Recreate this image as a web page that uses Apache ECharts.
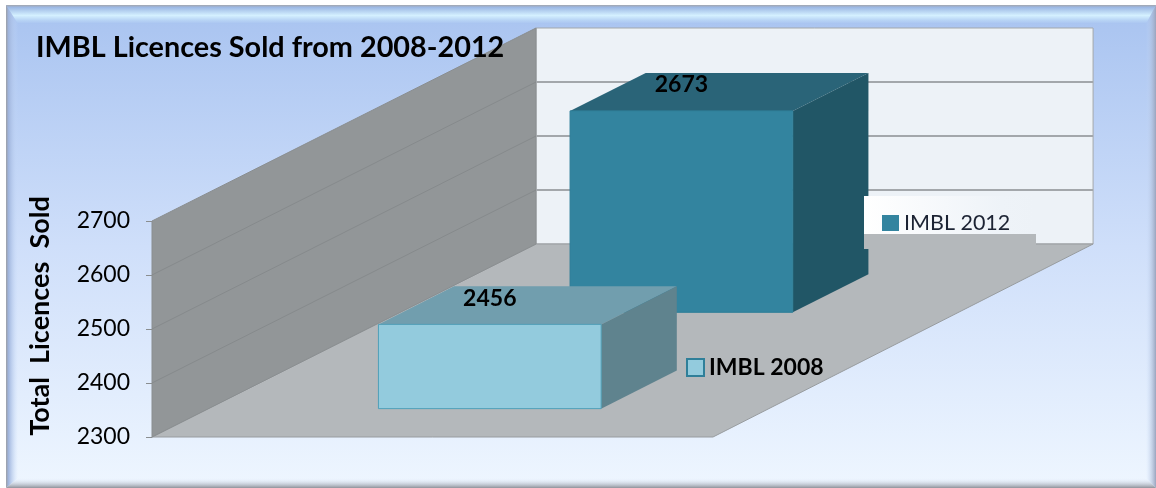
<!DOCTYPE html>
<html>
    <head>
        <meta charset="utf-8">
        <title>IMBL Licences Sold</title>
        <script src="https://cdn.jsdelivr.net/npm/echarts@6/dist/echarts.min.js"></script>
        <style>
            html, body { margin: 0; padding: 0; background: #fff; }
        </style>
    </head>
    <body>
        <div id="chart" style="width: 1156px;height: 488px;"></div>
        <script>
            var categories = ['2008-2012'];
            var names = ['IMBL 2008', 'IMBL 2012'];
            var values2008 = [2456];
            var values2012 = [2673];
            var ticks = [2300, 2400, 2500, 2600, 2700];

            // the box is drawn as an oblique projection of the axis grid
            var wallDx = 384, wallDy = -193;
            var backRight = 0.993;
            var barFrom = 0.303, barTo = 0.700, barDepth = 0.197;
            var font = 'Lato';

            function vertical(stops) {
                return {type: 'linear', x: 0, y: 0, x2: 0, y2: 1, colorStops: stops.map(function (s) {
                    return {offset: s[0], color: s[1]};
                })};
            }
            function horizontal(stops) {
                return {type: 'linear', x: 0, y: 0, x2: 1, y2: 0, colorStops: stops.map(function (s) {
                    return {offset: s[0], color: s[1]};
                })};
            }

            function projector(api) {
                var bw = api.size([1, 0])[0];
                return function (x, v, d) {
                    var c = api.coord([0, v]);
                    return [c[0] - bw / 2 + x * bw + d * wallDx, c[1] + d * wallDy];
                };
            }

            function poly(points, fill, stroke) {
                return {type: 'polygon', shape: {points: points}, style: {fill: fill, stroke: stroke || null, lineWidth: 1}};
            }

            function renderWalls(params, api) {
                var p = projector(api);
                var lo = ticks[0], hi = ticks[ticks.length - 1];
                var children = [
                    poly([p(0, lo, 1), p(backRight, lo, 1), p(backRight, hi, 1), p(0, hi, 1)], '#edf2f7', '#a3a7ab'),
                    poly([p(0, lo, 0), p(1, lo, 0), p(backRight, lo, 1), p(0, lo, 1)], '#b4b8bb', '#989c9f'),
                    poly([p(0, lo, 0), p(0, lo, 1), p(0, hi, 1), p(0, hi, 0)], '#929698', '#8a8e90')
                ];
                ticks.slice(1, -1).forEach(function (t) {
                    children.push({type: 'polyline', shape: {points: [p(0, t, 0), p(0, t, 1)]}, style: {fill: null, stroke: '#868a8c', lineWidth: 1}});
                    children.push({type: 'polyline', shape: {points: [p(0, t, 1), p(backRight, t, 1)]}, style: {fill: null, stroke: '#a3a7ab', lineWidth: 2}});
                });
                return {type: 'group', children: children};
            }

            function renderBar(depth, colors) {
                return function (params, api) {
                    var p = projector(api);
                    var v = api.value(1), lo = ticks[0], d2 = depth + barDepth;
                    var anchor = p((barFrom + barTo) / 2, v, depth);
                    return {type: 'group', children: [
                        poly([p(barFrom, v, depth), p(barTo, v, depth), p(barTo, v, d2), p(barFrom, v, d2)], colors[1]),
                        poly([p(barTo, lo, depth), p(barTo, lo, d2), p(barTo, v, d2), p(barTo, v, depth)], colors[2]),
                        poly([p(barFrom, lo, depth), p(barTo, lo, depth), p(barTo, v, depth), p(barFrom, v, depth)], colors[0], colors[3]),
                        {type: 'text', x: anchor[0], y: anchor[1] - 26, z2: 10, style: {
                            text: String(v), fill: '#000', align: 'center', verticalAlign: 'middle',
                            font: 'bold 23px ' + font
                        }}
                    ]};
                };
            }

            var option = {
                animation: false,
                backgroundColor: '#fff',
                textStyle: {fontFamily: font},
                title: {
                    text: 'IMBL Licences Sold from 2008-2012',
                    left: 36, top: 33, padding: 0,
                    textStyle: {fontFamily: font, fontSize: 28.8, fontWeight: 'bold', color: '#000'}
                },
                grid: {left: 152, top: 221, width: 561, height: 216, outerBoundsMode: 'none'},
                xAxis: {type: 'category', data: categories, show: false},
                yAxis: {
                    type: 'value', min: 2300, max: 2700, interval: 100,
                    name: 'Total  Licences  Sold',
                    nameLocation: 'middle', nameGap: 98, nameMoveOverlap: false,
                    nameTextStyle: {fontFamily: font, fontSize: 27, fontWeight: 'bold', color: '#000', padding: [0, 0, 0, 26]},
                    axisLine: {show: false},
                    axisTick: {show: true, length: 6, lineStyle: {color: '#8a8e90', width: 1}},
                    axisLabel: {margin: 22, fontFamily: font, fontSize: 23, color: '#000', formatter: function (v) { return String(v); }},
                    splitLine: {show: false}
                },
                legend: [
                    {
                        data: [{name: names[1], icon: 'rect'}],
                        left: 882, top: 212, padding: 0, itemWidth: 17, itemHeight: 16, z: 8,
                        selectedMode: false,
                        textStyle: {fontFamily: font, fontSize: 21.5, color: '#1c2333'}
                    },
                    {
                        data: [{name: names[0], icon: 'rect', itemStyle: {borderColor: '#2f7f99', borderWidth: 2}}],
                        left: 686, top: 356, padding: 0, itemWidth: 17, itemHeight: 17, z: 8,
                        selectedMode: false,
                        textStyle: {fontFamily: font, fontSize: 23, fontWeight: 'bold', color: '#000'}
                    }
                ],
                graphic: [
                    {type: 'rect', z: -10, shape: {x: 6, y: 5, width: 1150, height: 483}, style: {fill: vertical([[0, '#a8c3f0'], [0.5, '#cfdffa'], [1, '#eef6ff']])}},
                    {type: 'polygon', z: -9, shape: {points: [[6, 5], [1156, 5], [1146, 24], [18, 24]]}, style: {fill: vertical([[0, '#a3a6ad'], [0.12, '#9cb8e4'], [0.55, '#d4f0ff'], [0.8, '#b8d4f5'], [1, '#a8c3f0']])}},
                    {type: 'polygon', z: -9, shape: {points: [[6, 5], [18, 24], [18, 478], [6, 488]]}, style: {fill: horizontal([[0, '#9c9fa6'], [0.2, '#9fb4dc'], [1, 'rgba(200,220,250,0)']])}},
                    {type: 'polygon', z: -9, shape: {points: [[1156, 5], [1146, 24], [1146, 478], [1156, 488]]}, style: {fill: horizontal([[0, 'rgba(200,220,250,0)'], [1, '#9aa4bd']])}},
                    {type: 'polygon', z: -9, shape: {points: [[6, 488], [18, 478], [1146, 478], [1156, 488]]}, style: {fill: vertical([[0, 'rgba(230,240,255,0)'], [1, '#8f929a']])}},
                    // the pasted legend patch sitting over the wall and floor
                    {type: 'rect', z: 5, shape: {x: 864, y: 196, width: 172, height: 38}, style: {fill: horizontal([[0, '#ffffff'], [0.8, '#eef3f8'], [1, '#edf2f7']])}},
                    {type: 'rect', z: 5, shape: {x: 864, y: 234, width: 172, height: 15}, style: {fill: '#b4b8bb'}}
                ],
                series: [
                    {type: 'custom', name: 'walls', data: [[0, ticks[0]]], renderItem: renderWalls, silent: true, z: 1},
                    {type: 'custom', name: names[1], data: [[0, values2012[0]]], renderItem: renderBar(0.646, ['#33849f', '#2a6478', '#215666', '#2f7f99']), itemStyle: {color: '#33849f'}, z: 2, silent: true},
                    {type: 'custom', name: names[0], data: [[0, values2008[0]]], renderItem: renderBar(0.147, ['#93cbdd', '#719eae', '#5f838e', '#4f9fb8']), itemStyle: {color: '#93cbdd'}, z: 3, silent: true}
                ]
            };

            var chart = echarts.init(document.getElementById('chart'));
            chart.setOption(option);
        </script>
    </body>
</html>
